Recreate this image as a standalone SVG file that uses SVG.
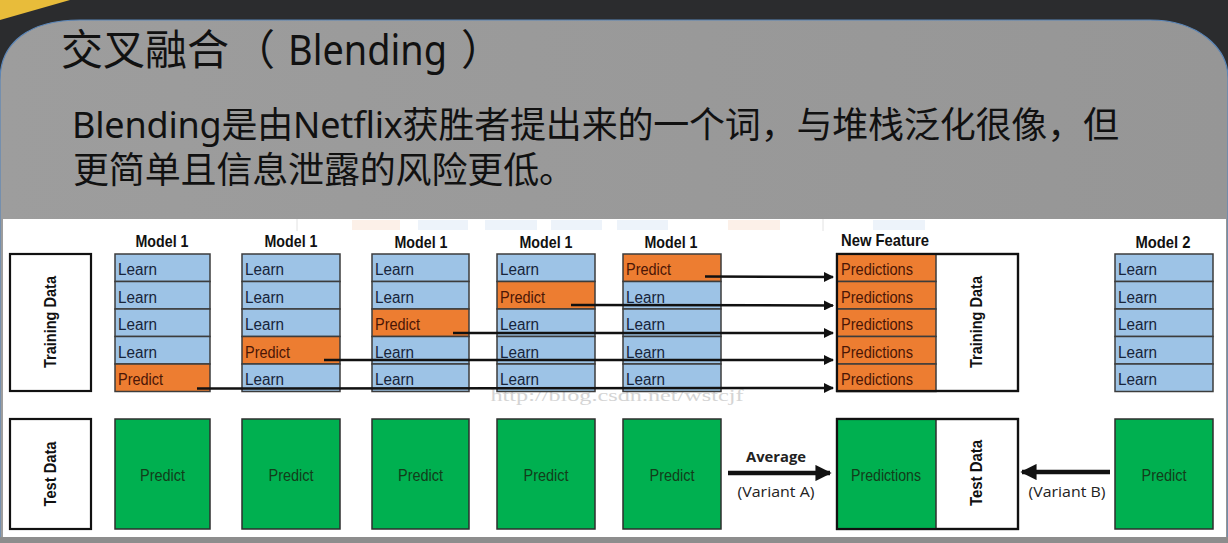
<svg xmlns="http://www.w3.org/2000/svg" width="1228" height="543" viewBox="0 0 1228 543">
  <style>
    .cjk { font-family: "Noto Sans", "Noto Sans CJK SC", sans-serif; fill: #111; }
    .cell { stroke: #3c3c3c; stroke-width: 1.5; }
    .learn { fill: #9dc3e6; }
    .pred { fill: #ed7d31; }
    .green { fill: #00b050; stroke: #2e2e2e; stroke-width: 1.5; }
    .frame { fill: #fff; stroke: #111; stroke-width: 2.2; }
    .t { font-family: "Liberation Sans", Arial, sans-serif; font-size: 16px; }
    .lt { fill: #17243a; }
    .pt { fill: #4a1606; }
    .gt { fill: #123d1a; font-size: 17px; text-anchor: middle; }
    .hdr { font-family: "Liberation Sans", Arial, sans-serif; font-weight: bold; font-size: 16.5px; text-anchor: middle; fill: #111; }
    .side { font-family: "Liberation Sans", Arial, sans-serif; font-weight: bold; font-size: 16px; text-anchor: middle; fill: #111; }
    .note { font-family: "Open Sans", "Liberation Sans", sans-serif; font-size: 15px; text-anchor: middle; fill: #222; }
    .conn { stroke: #111; stroke-width: 2.5; fill: none; }
    .conn.thick { stroke-width: 4.5; }
    .ghost { opacity: 0.18; }
  </style>
  <defs>
    <marker id="ah" viewBox="0 0 10 10" refX="9" refY="5" markerWidth="4" markerHeight="4" orient="auto" markerUnits="strokeWidth">
      <path d="M0,0 L10,5 L0,10 Z" fill="#111"/>
    </marker>
    <marker id="ahBig" viewBox="0 0 10 10" refX="9" refY="5" markerWidth="3.8" markerHeight="3.6" orient="auto" markerUnits="strokeWidth">
      <path d="M0,0 L10,5 L0,10 Z" fill="#111"/>
    </marker>
    <linearGradient id="panelFill" x1="0" y1="0" x2="1" y2="0">
      <stop offset="0" stop-color="#9d9d9d"/>
      <stop offset="1" stop-color="#969696"/>
    </linearGradient>
  </defs>

  <!-- slide background -->
  <rect x="0" y="0" width="1228" height="543" fill="#2b2c2e"/>
  <polygon points="0,0 70,0 0,20" fill="#e8bc3a"/>
  <path d="M0,80 C0,42 30,20 80,20 L1150,20 C1198,20 1228,48 1228,78 L1228,543 L0,543 Z" fill="url(#panelFill)" stroke="#5b86b8" stroke-width="1.2"/>
  <rect x="0" y="537" width="1228" height="6" fill="#8d8d8d"/>

  <!-- slide heading and body text -->
  <text class="cjk" x="61" y="65" font-size="42">交叉融合</text>
  <text class="cjk" x="233" y="65" font-size="42">（</text>
  <text class="cjk" x="288" y="65" font-size="42" textLength="159" lengthAdjust="spacingAndGlyphs">Blending</text>
  <text class="cjk" x="461" y="65" font-size="42">）</text>
  <text class="cjk" x="72" y="138" font-size="36" textLength="1047" lengthAdjust="spacing">Blending是由Netflix获胜者提出来的一个词，与堆栈泛化很像，但</text>
  <text class="cjk" x="73" y="183" font-size="36" textLength="502" lengthAdjust="spacing">更简单且信息泄露的风险更低。</text>

  <!-- embedded figure -->
  <rect x="3" y="219" width="1223" height="318" fill="#fff"/>
  <g class="ghost">
    <rect x="352" y="220" width="48" height="10" fill="#f4b183"/>
    <rect x="418" y="220" width="50" height="10" fill="#9dc3e6"/>
    <rect x="485" y="220" width="52" height="10" fill="#9dc3e6"/>
    <rect x="551" y="220" width="51" height="10" fill="#9dc3e6"/>
    <rect x="617" y="220" width="51" height="10" fill="#9dc3e6"/>
    <rect x="728" y="220" width="52" height="10" fill="#f4b183"/>
    <rect x="873" y="220" width="52" height="10" fill="#9dc3e6"/>
    <line x1="297" y1="219" x2="297" y2="231" stroke="#666"/>
    <line x1="823" y1="219" x2="823" y2="231" stroke="#666"/>
  </g>
  <text x="617" y="401" font-family="Liberation Serif, serif" font-size="16" fill="#d4d4d4" text-anchor="middle" textLength="253" lengthAdjust="spacingAndGlyphs">http://blog.csdn.net/wstcjf</text>

  <!-- row labels -->
  <g id="training-data-label">
    <rect class="frame" x="10" y="254" width="81" height="137"/>
    <text class="side" transform="translate(50,322) rotate(-90)" dominant-baseline="central" textLength="92" lengthAdjust="spacingAndGlyphs">Training Data</text>
  </g>
  <g id="test-data-label">
    <rect class="frame" x="10" y="419" width="81" height="110"/>
    <text class="side" transform="translate(50,474) rotate(-90)" dominant-baseline="central" textLength="65" lengthAdjust="spacingAndGlyphs">Test Data</text>
  </g>

  <!-- fold 1 -->
  <g id="model1-fold1">
    <text class="hdr" x="162" y="247" textLength="53" lengthAdjust="spacingAndGlyphs">Model 1</text>
    <rect class="cell learn" x="115" y="254" width="95" height="27.5"/>
    <rect class="cell learn" x="115" y="281.5" width="95" height="27.5"/>
    <rect class="cell learn" x="115" y="309" width="95" height="27.5"/>
    <rect class="cell learn" x="115" y="336.5" width="95" height="27.5"/>
    <rect class="cell pred" x="115" y="364" width="95" height="27.5"/>
    <text class="t lt" x="118" y="275" textLength="39" lengthAdjust="spacingAndGlyphs">Learn</text>
    <text class="t lt" x="118" y="302.5" textLength="39" lengthAdjust="spacingAndGlyphs">Learn</text>
    <text class="t lt" x="118" y="330" textLength="39" lengthAdjust="spacingAndGlyphs">Learn</text>
    <text class="t lt" x="118" y="357.5" textLength="39" lengthAdjust="spacingAndGlyphs">Learn</text>
    <text class="t pt" x="118" y="385" textLength="45" lengthAdjust="spacingAndGlyphs">Predict</text>
  </g>
  <g id="test-fold1">
    <rect class="green" x="115" y="419" width="95" height="110"/>
    <text class="t gt" x="162.5" y="481" textLength="45" lengthAdjust="spacingAndGlyphs">Predict</text>
  </g>

  <!-- fold 2 -->
  <g id="model1-fold2">
    <text class="hdr" x="291" y="247" textLength="53" lengthAdjust="spacingAndGlyphs">Model 1</text>
    <rect class="cell learn" x="242" y="254" width="98" height="27.5"/>
    <rect class="cell learn" x="242" y="281.5" width="98" height="27.5"/>
    <rect class="cell learn" x="242" y="309" width="98" height="27.5"/>
    <rect class="cell pred" x="242" y="336.5" width="98" height="27.5"/>
    <rect class="cell learn" x="242" y="364" width="98" height="27.5"/>
    <text class="t lt" x="245" y="275" textLength="39" lengthAdjust="spacingAndGlyphs">Learn</text>
    <text class="t lt" x="245" y="302.5" textLength="39" lengthAdjust="spacingAndGlyphs">Learn</text>
    <text class="t lt" x="245" y="330" textLength="39" lengthAdjust="spacingAndGlyphs">Learn</text>
    <text class="t pt" x="245" y="357.5" textLength="45" lengthAdjust="spacingAndGlyphs">Predict</text>
    <text class="t lt" x="245" y="385" textLength="39" lengthAdjust="spacingAndGlyphs">Learn</text>
  </g>
  <g id="test-fold2">
    <rect class="green" x="242" y="419" width="98" height="110"/>
    <text class="t gt" x="291" y="481" textLength="45" lengthAdjust="spacingAndGlyphs">Predict</text>
  </g>

  <!-- fold 3 -->
  <g id="model1-fold3">
    <text class="hdr" x="421" y="248" textLength="53" lengthAdjust="spacingAndGlyphs">Model 1</text>
    <rect class="cell learn" x="372" y="254" width="97" height="27.5"/>
    <rect class="cell learn" x="372" y="281.5" width="97" height="27.5"/>
    <rect class="cell pred" x="372" y="309" width="97" height="27.5"/>
    <rect class="cell learn" x="372" y="336.5" width="97" height="27.5"/>
    <rect class="cell learn" x="372" y="364" width="97" height="27.5"/>
    <text class="t lt" x="375" y="275" textLength="39" lengthAdjust="spacingAndGlyphs">Learn</text>
    <text class="t lt" x="375" y="302.5" textLength="39" lengthAdjust="spacingAndGlyphs">Learn</text>
    <text class="t pt" x="375" y="330" textLength="45" lengthAdjust="spacingAndGlyphs">Predict</text>
    <text class="t lt" x="375" y="357.5" textLength="39" lengthAdjust="spacingAndGlyphs">Learn</text>
    <text class="t lt" x="375" y="385" textLength="39" lengthAdjust="spacingAndGlyphs">Learn</text>
  </g>
  <g id="test-fold3">
    <rect class="green" x="372" y="419" width="97" height="110"/>
    <text class="t gt" x="420.5" y="481" textLength="45" lengthAdjust="spacingAndGlyphs">Predict</text>
  </g>

  <!-- fold 4 -->
  <g id="model1-fold4">
    <text class="hdr" x="546" y="248" textLength="53" lengthAdjust="spacingAndGlyphs">Model 1</text>
    <rect class="cell learn" x="497" y="254" width="98" height="27.5"/>
    <rect class="cell pred" x="497" y="281.5" width="98" height="27.5"/>
    <rect class="cell learn" x="497" y="309" width="98" height="27.5"/>
    <rect class="cell learn" x="497" y="336.5" width="98" height="27.5"/>
    <rect class="cell learn" x="497" y="364" width="98" height="27.5"/>
    <text class="t lt" x="500" y="275" textLength="39" lengthAdjust="spacingAndGlyphs">Learn</text>
    <text class="t pt" x="500" y="302.5" textLength="45" lengthAdjust="spacingAndGlyphs">Predict</text>
    <text class="t lt" x="500" y="330" textLength="39" lengthAdjust="spacingAndGlyphs">Learn</text>
    <text class="t lt" x="500" y="357.5" textLength="39" lengthAdjust="spacingAndGlyphs">Learn</text>
    <text class="t lt" x="500" y="385" textLength="39" lengthAdjust="spacingAndGlyphs">Learn</text>
  </g>
  <g id="test-fold4">
    <rect class="green" x="497" y="419" width="98" height="110"/>
    <text class="t gt" x="546" y="481" textLength="45" lengthAdjust="spacingAndGlyphs">Predict</text>
  </g>

  <!-- fold 5 -->
  <g id="model1-fold5">
    <text class="hdr" x="671" y="248" textLength="53" lengthAdjust="spacingAndGlyphs">Model 1</text>
    <rect class="cell pred" x="623" y="254" width="98" height="27.5"/>
    <rect class="cell learn" x="623" y="281.5" width="98" height="27.5"/>
    <rect class="cell learn" x="623" y="309" width="98" height="27.5"/>
    <rect class="cell learn" x="623" y="336.5" width="98" height="27.5"/>
    <rect class="cell learn" x="623" y="364" width="98" height="27.5"/>
    <text class="t pt" x="626" y="275" textLength="45" lengthAdjust="spacingAndGlyphs">Predict</text>
    <text class="t lt" x="626" y="302.5" textLength="39" lengthAdjust="spacingAndGlyphs">Learn</text>
    <text class="t lt" x="626" y="330" textLength="39" lengthAdjust="spacingAndGlyphs">Learn</text>
    <text class="t lt" x="626" y="357.5" textLength="39" lengthAdjust="spacingAndGlyphs">Learn</text>
    <text class="t lt" x="626" y="385" textLength="39" lengthAdjust="spacingAndGlyphs">Learn</text>
  </g>
  <g id="test-fold5">
    <rect class="green" x="623" y="419" width="98" height="110"/>
    <text class="t gt" x="672" y="481" textLength="45" lengthAdjust="spacingAndGlyphs">Predict</text>
  </g>

  <!-- new feature block (training side) -->
  <g id="new-feature-train">
    <text class="hdr" x="885" y="246" textLength="88" lengthAdjust="spacingAndGlyphs">New Feature</text>
    <rect class="frame" x="837" y="254" width="181" height="137"/>
    <rect class="cell pred" x="837" y="254" width="99" height="27.5"/>
    <rect class="cell pred" x="837" y="281.5" width="99" height="27.5"/>
    <rect class="cell pred" x="837" y="309" width="99" height="27.5"/>
    <rect class="cell pred" x="837" y="336.5" width="99" height="27.5"/>
    <rect class="cell pred" x="837" y="364" width="99" height="27.5"/>
    <rect x="837" y="254" width="181" height="137" fill="none" stroke="#111" stroke-width="2.2"/>
    <text class="t pt" x="841" y="275" textLength="72" lengthAdjust="spacingAndGlyphs">Predictions</text>
    <text class="t pt" x="841" y="302.5" textLength="72" lengthAdjust="spacingAndGlyphs">Predictions</text>
    <text class="t pt" x="841" y="330" textLength="72" lengthAdjust="spacingAndGlyphs">Predictions</text>
    <text class="t pt" x="841" y="357.5" textLength="72" lengthAdjust="spacingAndGlyphs">Predictions</text>
    <text class="t pt" x="841" y="385" textLength="72" lengthAdjust="spacingAndGlyphs">Predictions</text>
    <text class="side" transform="translate(976,322) rotate(-90)" dominant-baseline="central" textLength="92" lengthAdjust="spacingAndGlyphs">Training Data</text>
  </g>

  <!-- new feature block (test side) -->
  <g id="new-feature-test">
    <rect class="frame" x="837" y="419" width="181" height="110"/>
    <rect x="837" y="419" width="99" height="110" fill="#00b050" stroke="#2e2e2e" stroke-width="1.5"/>
    <rect x="837" y="419" width="181" height="110" fill="none" stroke="#111" stroke-width="2.2"/>
    <text class="t gt" x="886" y="481" textLength="70" lengthAdjust="spacingAndGlyphs">Predictions</text>
    <text class="side" transform="translate(976,473) rotate(-90)" dominant-baseline="central" textLength="66" lengthAdjust="spacingAndGlyphs">Test Data</text>
  </g>

  <!-- second-level model -->
  <g id="model2">
    <text class="hdr" x="1163" y="248" textLength="55" lengthAdjust="spacingAndGlyphs">Model 2</text>
    <rect class="cell learn" x="1115" y="254" width="98" height="27.5"/>
    <rect class="cell learn" x="1115" y="281.5" width="98" height="27.5"/>
    <rect class="cell learn" x="1115" y="309" width="98" height="27.5"/>
    <rect class="cell learn" x="1115" y="336.5" width="98" height="27.5"/>
    <rect class="cell learn" x="1115" y="364" width="98" height="27.5"/>
    <text class="t lt" x="1118" y="275" textLength="39" lengthAdjust="spacingAndGlyphs">Learn</text>
    <text class="t lt" x="1118" y="302.5" textLength="39" lengthAdjust="spacingAndGlyphs">Learn</text>
    <text class="t lt" x="1118" y="330" textLength="39" lengthAdjust="spacingAndGlyphs">Learn</text>
    <text class="t lt" x="1118" y="357.5" textLength="39" lengthAdjust="spacingAndGlyphs">Learn</text>
    <text class="t lt" x="1118" y="385" textLength="39" lengthAdjust="spacingAndGlyphs">Learn</text>
  </g>
  <g id="model2-test">
    <rect class="green" x="1115" y="419" width="98" height="110"/>
    <text class="t gt" x="1164" y="481" textLength="45" lengthAdjust="spacingAndGlyphs">Predict</text>
  </g>

  <!-- connectors -->
  <g id="connectors">
    <line class="conn" x1="705" y1="276.5" x2="833" y2="277" marker-end="url(#ah)"/>
    <line class="conn" x1="571" y1="305" x2="833" y2="305.5" marker-end="url(#ah)"/>
    <line class="conn" x1="453" y1="333" x2="833" y2="333" marker-end="url(#ah)"/>
    <line class="conn" x1="324" y1="360" x2="833" y2="360" marker-end="url(#ah)"/>
    <line class="conn" x1="197" y1="388.5" x2="833" y2="388" marker-end="url(#ah)"/>
    <line class="conn thick" x1="728" y1="473" x2="830" y2="473" marker-end="url(#ahBig)"/>
    <line class="conn thick" x1="1110" y1="472" x2="1022" y2="472" marker-end="url(#ahBig)"/>
    <text class="note" x="776" y="462" font-weight="bold" textLength="60" lengthAdjust="spacingAndGlyphs">Average</text>
    <text class="note" x="776" y="497" textLength="77" lengthAdjust="spacingAndGlyphs">(Variant A)</text>
    <text class="note" x="1067" y="497" textLength="77" lengthAdjust="spacingAndGlyphs">(Variant B)</text>
  </g>
</svg>
